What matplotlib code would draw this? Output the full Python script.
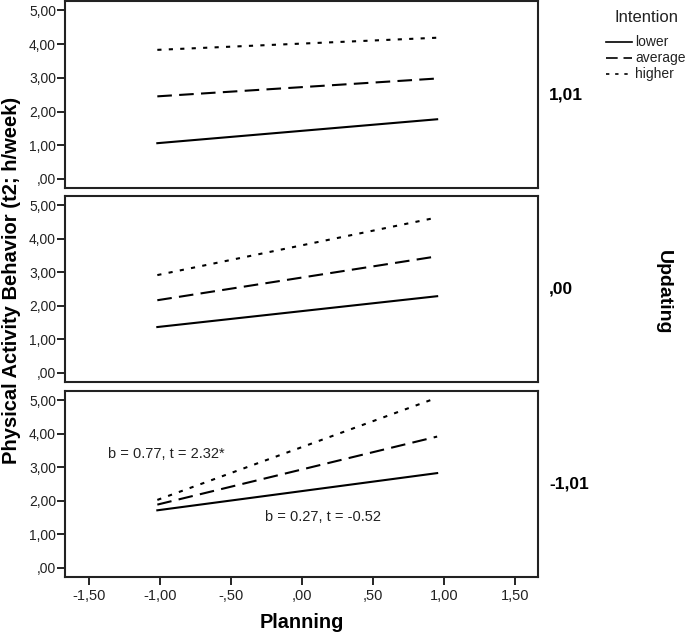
import matplotlib
matplotlib.use("Agg")
import matplotlib.pyplot as plt
from matplotlib.lines import Line2D

plt.rcParams['font.family'] = ['Liberation Sans', 'DejaVu Sans']

planning = [-1.02, 0.95]
updating_labels = ["1,01", ",00", "-1,01"]
intention = ["lower", "average", "higher"]
# values per panel (updating high, mean, low), per intention level, at planning low/high
values = [
    {"lower": [1.06, 1.77], "average": [2.45, 2.98], "higher": [3.83, 4.19]},
    {"lower": [1.37, 2.29], "average": [2.17, 3.48], "higher": [2.92, 4.64]},
    {"lower": [1.72, 2.83], "average": [1.89, 3.92], "higher": [2.03, 5.08]},
]
yticks = [0, 1, 2, 3, 4, 5]
ytick_labels = [",00", "1,00", "2,00", "3,00", "4,00", "5,00"]
xticks = [-1.5, -1.0, -0.5, 0.0, 0.5, 1.0, 1.5]
xtick_labels = ["-1,50", "-1,00", "-,50", ",00", ",50", "1,00", "1,50"]
annotations = [("b = 0.77, t = 2.32*", -1.37, 3.40), ("b = 0.27, t = -0.52", -0.26, 1.52)]

styles = {
    "lower": dict(linestyle="-"),
    "average": dict(linestyle=(0, (7, 3.5))),
    "higher": dict(linestyle=(0, (2, 3.5))),
}

fig = plt.figure(figsize=(6.85, 6.34), dpi=100)
left, width = 65/685, (538-65)/685
tops = [1, 196, 391]
bottoms = [188, 382, 577]
axes = []
for i in range(3):
    b = 1 - bottoms[i]/634
    h = (bottoms[i]-tops[i])/634
    ax = fig.add_axes([left, b, width, h])
    axes.append(ax)
    for lev in intention:
        ax.plot(planning, values[i][lev], color="black", lw=1.5, **styles[lev])
    ax.set_xlim(-1.67, 1.66)
    ax.set_ylim(-0.27, 5.28)
    ax.set_yticks(yticks)
    ax.set_yticklabels(ytick_labels, fontsize=10, color="#222222")
    ax.tick_params(axis='y', direction='out', length=5.5, width=1.2, pad=1)
    for s in ax.spines.values():
        s.set_linewidth(1.5)
        s.set_color("#222222")
    if i < 2:
        ax.set_xticks([])
    else:
        ax.set_xticks(xticks)
        ax.set_xticklabels(xtick_labels, fontsize=10.5, color="#222222")
        ax.tick_params(axis='x', direction='out', length=6, width=1.2, pad=3)
    ax.text(1.023, 0.5, updating_labels[i], transform=ax.transAxes, fontsize=12.5,
            fontweight='bold', va='center', ha='left')

for txt, x, y in annotations:
    axes[2].text(x, y, txt, fontsize=10.5, ha='left', va='center', color="#222222")

fig.text(302/685, 1 - 622/634, "Planning", fontsize=14.3, fontweight='bold',
         ha='center', va='center')
fig.text(12/685, 1 - 280/634, "Physical Activity Behavior (t2; h/week)", rotation=90,
         fontsize=14.5, fontweight='bold', ha='center', va='center')
fig.text(663/685, 1 - 292/634, "Updating", rotation=270, fontsize=14,
         fontweight='bold', ha='center', va='center')

fig.text(647/685, 1 - 18/634, "Intention", fontsize=12, ha='center', va='center',
         color="#222222")
ys = [42, 58, 74]
for lev, yy in zip(intention, ys):
    yf = 1 - yy/634
    fig.add_artist(Line2D([606/685, 632/685], [yf, yf], color="black", lw=1.2,
                          **styles[lev]))
    fig.text(635/685, yf, lev, fontsize=10, ha='left', va='center', color="#222222")

fig.savefig("out.png", dpi=100)
